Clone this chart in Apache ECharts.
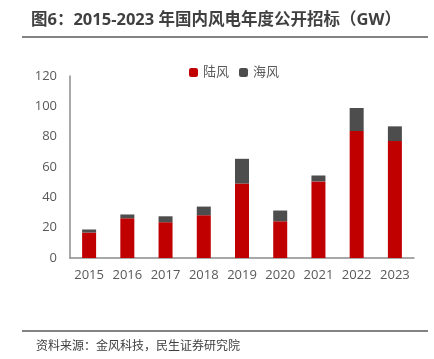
<!DOCTYPE html>
<html><head><meta charset="utf-8">
<script src="https://cdn.jsdelivr.net/npm/echarts@6/dist/echarts.min.js"></script>
<style>html,body{margin:0;padding:0;background:#fff}#c{width:434px;height:359px}</style>
</head><body><div id="c"></div>
<script>
const categories = ['2015','2016','2017','2018','2019','2020','2021','2022','2023'];
const onshore = [16.8, 26.2, 23.6, 28.2, 49.1, 24.2, 50.5, 83.7, 77.1];
const offshore = [2.0, 2.5, 3.9, 5.7, 16.3, 7.1, 3.9, 15.2, 9.7];
const yTicks = [0, 20, 40, 60, 80, 100, 120];

const chart = echarts.init(document.getElementById('c'));
const font = '"Open Sans","Noto Sans CJK SC",sans-serif';
chart.setOption({
  animation: false,
  textStyle: {fontFamily: font},
  title: [{
    text: '图6：2015-2023 年国内风电年度公开招标（GW）',
    left: 26, top: 7,
    textStyle: {fontSize: 16.5, fontWeight: 'bold', color: '#404040', fontFamily: font}
  }, {
    text: '资料来源：金风科技，民生证券研究院',
    left: 31, top: 336,
    textStyle: {fontSize: 12, fontWeight: 'normal', color: '#404040', fontFamily: font}
  }],
  graphic: [
    {type: 'line', shape: {x1: 22, y1: 37, x2: 428, y2: 37}, style: {stroke: '#595959', lineWidth: 1.5}},
    {type: 'line', shape: {x1: 22, y1: 331, x2: 428, y2: 331}, style: {stroke: '#595959', lineWidth: 1.5}}
  ],
  legend: {
    top: 61, left: 184,
    itemWidth: 9, itemHeight: 9, itemGap: 10,
    textStyle: {fontSize: 13, color: '#595959', fontFamily: font},
    data: ['陆风', '海风']
  },
  grid: {left: 70, right: 20, top: 76, bottom: 101},
  xAxis: {
    type: 'category', data: categories,
    axisLine: {lineStyle: {color: '#8c8c8c', width: 1.5}},
    axisTick: {show: false},
    axisLabel: {fontSize: 13, color: '#595959', margin: 11, interval: 0, hideOverlap: false}
  },
  yAxis: {
    type: 'value', min: 0, max: 120, interval: 20,
    axisLine: {show: true, lineStyle: {color: '#8c8c8c', width: 1.5}},
    axisTick: {show: false},
    splitLine: {show: false},
    axisLabel: {fontSize: 13, color: '#595959', margin: 13,
      formatter: v => yTicks.includes(v) ? String(v) : ''}
  },
  series: [
    {name: '陆风', type: 'bar', stack: 't', data: onshore, barWidth: 14,
     itemStyle: {color: '#C00000'}},
    {name: '海风', type: 'bar', stack: 't', data: offshore, barWidth: 14,
     itemStyle: {color: '#4D4D4D'}}
  ]
});
</script></body></html>
